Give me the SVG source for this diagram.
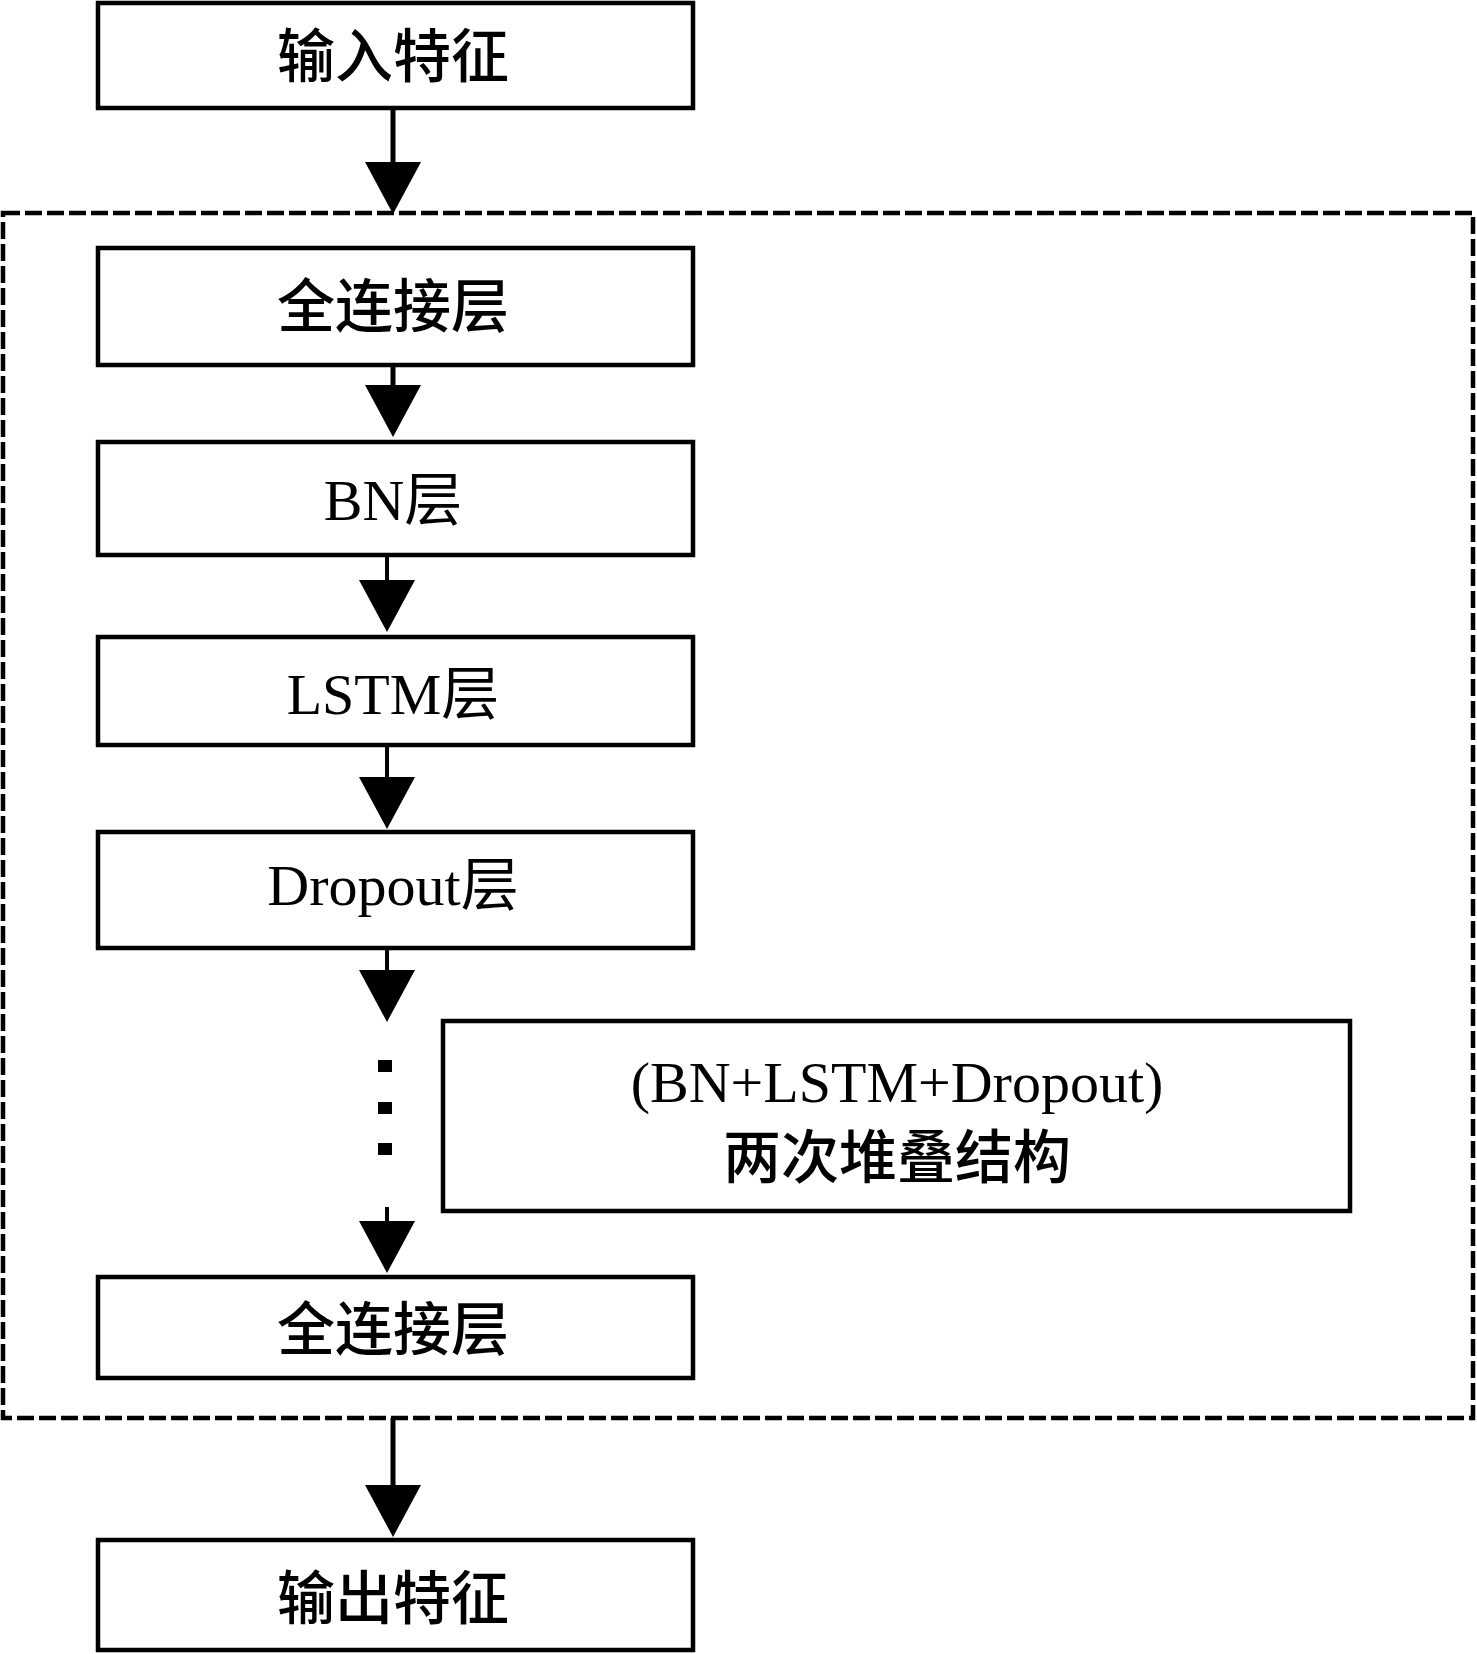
<svg xmlns="http://www.w3.org/2000/svg" width="1477" height="1654" viewBox="0 0 1477 1654">
<style>
.box{fill:#fff;stroke:#000;stroke-width:4.5}
.grp{fill:none;stroke:#000;stroke-width:4.5;stroke-dasharray:17 5}
.ln{stroke:#000;stroke-width:5;fill:none}
.ln2{stroke:#000;stroke-width:4;fill:none}
.cjk{font-family:"Noto Sans CJK SC","Liberation Serif",serif;font-size:58px;font-weight:500;text-anchor:middle;dominant-baseline:central;fill:#000}
.lat{font-family:"Liberation Serif","Noto Sans CJK SC",serif;font-size:58px;text-anchor:middle;fill:#000}
.dot{fill:#000}
</style>
<defs>
<marker id="ah" markerUnits="userSpaceOnUse" markerWidth="54" markerHeight="58" refX="0" refY="28" orient="auto" viewBox="0 0 54 58" overflow="visible">
<path d="M0,0 L52,28 L0,56 Z" fill="#000"/>
</marker>
</defs>
<rect id="group" class="grp" x="3" y="213" width="1470" height="1205"/>
<g id="connectors">
<line class="ln" x1="393" y1="108" x2="393" y2="162" marker-end="url(#ah)"/>
<line class="ln" x1="393" y1="365" x2="393" y2="385" marker-end="url(#ah)"/>
<line class="ln2" x1="387" y1="555" x2="387" y2="580" marker-end="url(#ah)"/>
<line class="ln2" x1="387" y1="745" x2="387" y2="777" marker-end="url(#ah)"/>
<line class="ln2" x1="387" y1="948" x2="387" y2="970" marker-end="url(#ah)"/>
<line class="ln2" x1="387" y1="1207" x2="387" y2="1221" marker-end="url(#ah)"/>
<line class="ln" x1="393" y1="1418" x2="393" y2="1485" marker-end="url(#ah)"/>
<rect class="dot" x="378" y="1060" width="14" height="12"/>
<rect class="dot" x="378" y="1102" width="14" height="12"/>
<rect class="dot" x="378" y="1143" width="14" height="12"/>
</g>
<g id="input">
<rect class="box" x="98" y="3" width="595" height="105"/>
<text class="cjk" x="393" y="52">输入特征</text>
</g>
<g id="fc1">
<rect class="box" x="98" y="248" width="595" height="117"/>
<text class="cjk" x="393" y="302">全连接层</text>
</g>
<g id="bn">
<rect class="box" x="98" y="442" width="595" height="113"/>
<text class="lat" x="393" y="520">BN层</text>
</g>
<g id="lstm">
<rect class="box" x="98" y="637" width="595" height="108"/>
<text class="lat" x="393" y="714">LSTM层</text>
</g>
<g id="dropout">
<rect class="box" x="98" y="832" width="595" height="116"/>
<text class="lat" x="393" y="905">Dropout层</text>
</g>
<g id="stack">
<rect class="box" x="443" y="1021" width="907" height="190"/>
<text class="lat" x="897" y="1102">(BN+LSTM+Dropout)</text>
<text class="cjk" x="897" y="1153">两次堆叠结构</text>
</g>
<g id="fc2">
<rect class="box" x="98" y="1277" width="595" height="101"/>
<text class="cjk" x="393" y="1325">全连接层</text>
</g>
<g id="output">
<rect class="box" x="98" y="1540" width="595" height="110"/>
<text class="cjk" x="393" y="1594">输出特征</text>
</g>
</svg>
